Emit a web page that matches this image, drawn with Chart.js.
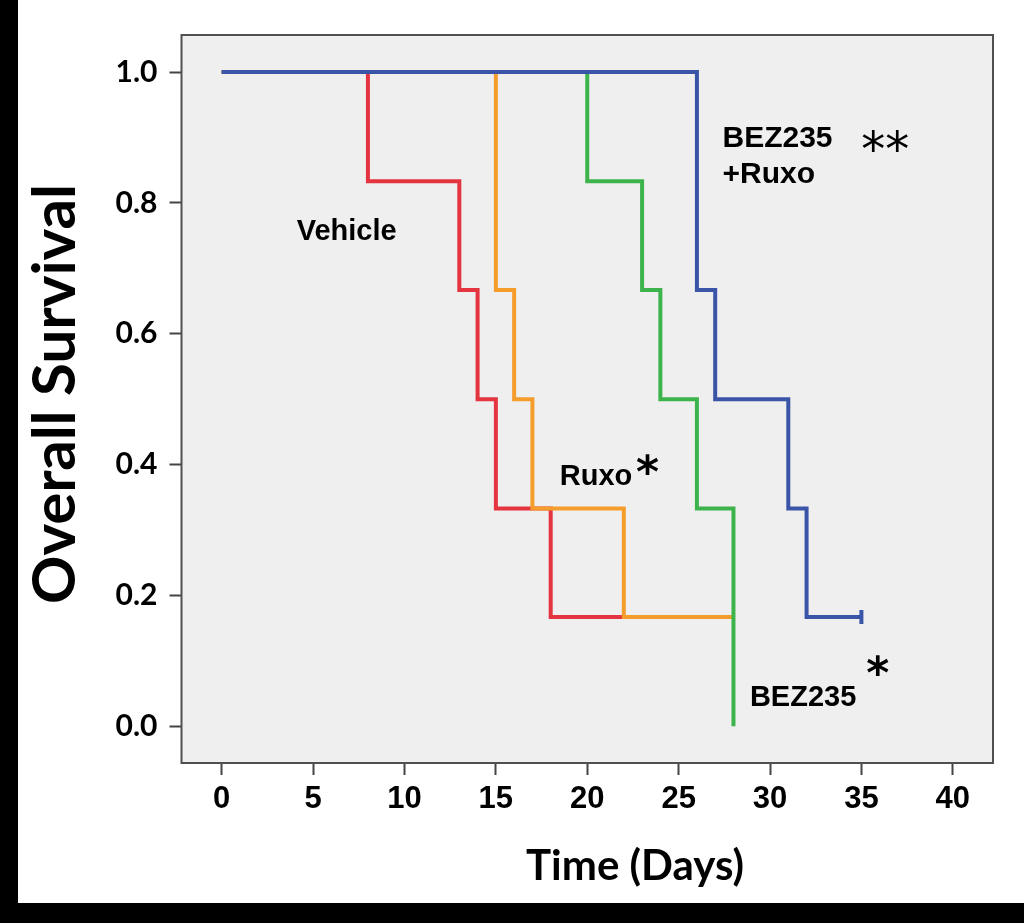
<!DOCTYPE html>
<html lang="en">
<head>
  <meta charset="UTF-8" />
  <title>Overall Survival</title>
  <script src="https://cdn.jsdelivr.net/npm/chart.js"></script>
  <style>
    html, body { margin: 0; padding: 0; background: #fff; }
    .frame { width: 1024px; height: 923px; box-sizing: border-box; border-left: 18px solid #000; border-bottom: 20px solid #000; background: #fff; }
    .frame canvas { display: block; }
  </style>
</head>
<body>
  <div class="frame">
    <canvas id="survival" width="1006" height="903"></canvas>
  </div>

  <script>
    // Kaplan-Meier steps (days, survival fraction)
    const vehicleDays = [0, 8, 13, 14, 15, 18, 22];
    const vehicleSurv = [1.0, 0.833, 0.667, 0.5, 0.333, 0.167, 0.167];

    const ruxoDays = [0, 15, 16, 17, 22, 28];
    const ruxoSurv = [1.0, 0.667, 0.5, 0.333, 0.167, 0.167];

    const bezDays = [0, 20, 23, 24, 26, 28];
    const bezSurv = [1.0, 0.833, 0.667, 0.5, 0.333, 0.0];

    const comboDays = [0, 26, 27, 31, 32, 35];
    const comboSurv = [1.0, 0.667, 0.5, 0.333, 0.167, 0.167];
    const comboCensored = [35];

    const xTicks = [0, 5, 10, 15, 20, 25, 30, 35, 40];
    const yTicks = [0.0, 0.2, 0.4, 0.6, 0.8, 1.0];

    const colors = {
      combo: '#3a55a8',
      bez: '#3cb44b',
      ruxo: '#f59d2c',
      vehicle: '#e4343f'
    };

    function steps(days, surv) {
      return days.map((d, i) => ({ x: d, y: surv[i] }));
    }

    function makeSet(label, days, surv, color, censored) {
      censored = censored || [];
      return {
        label: label,
        data: steps(days, surv),
        borderColor: color,
        backgroundColor: color,
        borderWidth: 4,
        stepped: 'before',
        fill: false,
        pointStyle: 'line',
        rotation: 90,
        pointRadius: days.map(d => censored.includes(d) ? 7 : 0),
        pointBorderWidth: 4,
        pointHoverRadius: 0
      };
    }

    // labels drawn inside the plot, placed in data units
    const notes = [
      { text: 'Vehicle', x: 4.1, y: 0.743, font: 'bold 29px "Liberation Sans"', align: 'left', base: 'alphabetic' },
      { text: 'BEZ235', x: 27.4, y: 0.885, font: 'bold 30px "Liberation Sans"', align: 'left', base: 'alphabetic' },
      { text: '+Ruxo', x: 27.4, y: 0.830, font: 'bold 30px "Liberation Sans"', align: 'left', base: 'alphabetic' },
      { text: '**', x: 36.3, y: 0.876, font: '48px "DejaVu Sans"', align: 'center', base: 'middle' },
      { text: 'Ruxo', x: 18.5, y: 0.3685, font: 'bold 29px "Liberation Sans"', align: 'left', base: 'alphabetic' },
      { text: '*', x: 23.3, y: 0.384, font: 'bold 44px "DejaVu Sans"', align: 'center', base: 'middle' },
      { text: 'BEZ235', x: 28.9, y: 0.0306, font: 'bold 29px "Liberation Sans"', align: 'left', base: 'alphabetic' },
      { text: '*', x: 35.9, y: 0.076, font: 'bold 44px "DejaVu Sans"', align: 'center', base: 'middle' }
    ];

    const plotFrame = {
      id: 'plotFrame',
      beforeDatasetsDraw(chart) {
        const { ctx, chartArea: a } = chart;
        ctx.save();
        ctx.fillStyle = '#efefef';
        ctx.fillRect(a.left, a.top, a.right - a.left, a.bottom - a.top);
        ctx.restore();
      },
      afterDraw(chart) {
        const { ctx, chartArea: a, scales } = chart;
        ctx.save();
        ctx.strokeStyle = '#505050';
        ctx.lineWidth = 2;
        ctx.strokeRect(a.left, a.top, a.right - a.left, a.bottom - a.top);

        ctx.fillStyle = '#000';
        notes.forEach(n => {
          ctx.font = n.font;
          ctx.textAlign = n.align;
          ctx.textBaseline = n.base;
          ctx.fillText(n.text, scales.x.getPixelForValue(n.x), scales.y.getPixelForValue(n.y));
        });

        // axis titles
        ctx.font = 'bold 42px Lato';
        ctx.textAlign = 'center';
        ctx.textBaseline = 'middle';
        ctx.fillText('Time (Days)', 617, 866);

        ctx.translate(38, 394);
        ctx.rotate(-Math.PI / 2);
        ctx.font = 'bold 60px Lato';
        ctx.fillText('Overall Survival', 0, 0);
        ctx.restore();
      }
    };

    new Chart(document.getElementById('survival'), {
      type: 'line',
      data: {
        datasets: [
          makeSet('BEZ235+Ruxo', comboDays, comboSurv, colors.combo, comboCensored),
          makeSet('BEZ235', bezDays, bezSurv, colors.bez),
          makeSet('Ruxo', ruxoDays, ruxoSurv, colors.ruxo),
          makeSet('Vehicle', vehicleDays, vehicleSurv, colors.vehicle)
        ]
      },
      options: {
        responsive: false,
        animation: false,
        layout: { padding: { top: 35, right: 31, left: 0, bottom: 0 } },
        plugins: {
          legend: { display: false },
          tooltip: { enabled: false }
        },
        scales: {
          x: {
            type: 'linear',
            min: -2.2,
            max: 42.2,
            afterBuildTicks: s => { s.ticks = xTicks.map(v => ({ value: v })); },
            afterFit: s => { s.height = 140; },
            grid: { drawOnChartArea: false, drawTicks: true, tickLength: 12, tickColor: '#444', tickWidth: 2 },
            border: { display: false },
            ticks: {
              color: '#000',
              padding: 6,
              maxRotation: 0,
              font: { family: '"Liberation Sans"', weight: 'bold', size: 31 }
            }
          },
          y: {
            min: -0.056,
            max: 1.0566,
            afterBuildTicks: s => { s.ticks = yTicks.map(v => ({ value: v })); },
            afterFit: s => { s.width = 163.5; },
            grid: { drawOnChartArea: false, drawTicks: true, tickLength: 12, tickColor: '#444', tickWidth: 2 },
            border: { display: false },
            ticks: {
              color: '#000',
              padding: 12,
              callback: v => v.toFixed(1),
              font: { family: 'Lato', weight: 'bold', size: 30 }
            }
          }
        }
      },
      plugins: [plotFrame]
    });
  </script>
</body>
</html>
